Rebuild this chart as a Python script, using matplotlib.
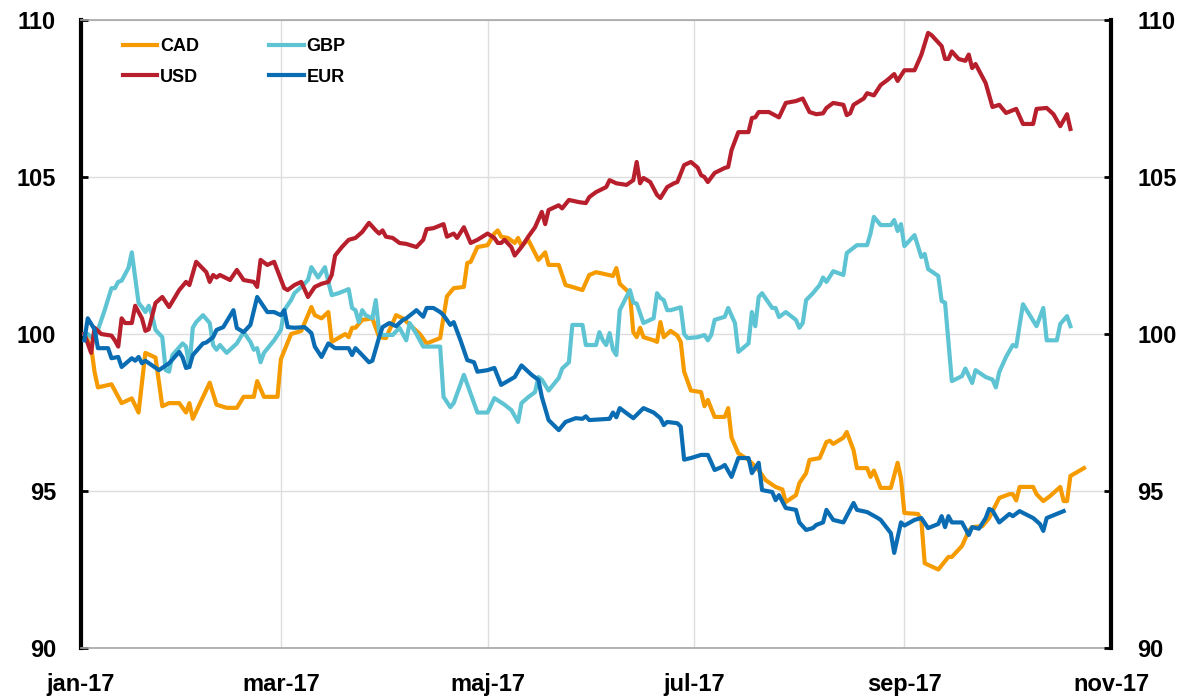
import pandas as pd
import matplotlib.pyplot as plt

# dage efter 1. jan 2017, indeks (start = 100)
cad_day = [1, 3, 4, 5, 9, 10, 12, 15, 17, 19, 22, 24, 26, 29, 31, 32, 33, 38, 40, 43, 46, 48, 51, 52, 54, 58,
           59, 62, 65, 68, 69, 71, 73, 74, 78, 79, 80, 81, 83, 86, 88, 90, 93, 95, 98, 100, 102, 106, 107, 108,
           110, 113, 114, 115, 117, 120, 122, 123, 124, 126, 128, 129, 130, 132, 135, 137, 138, 141, 143, 145,
           148, 150, 152, 155, 157, 158, 159, 161, 162, 163, 164, 165, 166, 169, 170, 171, 172, 174, 176, 177,
           178, 180, 183, 184, 185, 187, 190, 191, 192, 194, 197, 200, 202, 205, 207, 208, 211, 212, 214, 215,
           218, 220, 221, 222, 225, 226, 228, 229, 232, 233, 234, 236, 239, 241, 242, 243, 247, 248, 249, 253,
           256, 257, 260, 262, 263, 266, 268, 271, 274, 275, 276, 277, 281, 282, 284, 286, 289, 290, 291, 292, 296]
cad_val = [100.0, 99.6, 98.8, 98.3, 98.4, 98.2, 97.8, 97.95, 97.5, 99.4, 99.25, 97.7, 97.8, 97.8, 97.5, 97.8, 97.3,
           98.45, 97.75, 97.65, 97.65, 98.0, 98.0, 98.5, 98.0, 98.0,
           99.2, 100.0, 100.1, 100.86, 100.6, 100.5, 100.7, 99.75, 100.0, 99.9, 100.2, 100.2, 100.45, 100.5, 99.9,
           99.87, 100.6, 100.5, 100.2, 100.0, 99.7, 99.87, 100.55, 101.2,
           101.46, 101.5, 102.26, 102.3, 102.77, 102.83, 103.2, 103.3, 103.1, 103.06, 102.9, 103.06, 102.8, 103.0,
           102.36, 102.6, 102.2, 102.2, 101.56, 101.5,
           101.4, 101.88, 101.97, 101.9, 101.85, 102.1, 101.6, 101.4, 101.3, 100.06, 99.9, 100.2, 99.9, 99.8, 99.75,
           100.38, 99.9, 100.1, 99.95, 99.75,
           98.8, 98.2, 98.15, 97.7, 97.9, 97.36, 97.36, 97.64, 96.7, 96.2, 95.99, 95.67, 95.35, 95.13, 95.05, 94.65,
           94.87, 95.25, 95.57, 95.99,
           96.05, 96.56, 96.6, 96.5, 96.7, 96.88, 96.3, 95.73, 95.73, 95.45, 95.65, 95.1, 95.1, 95.9, 95.4, 94.3,
           94.27, 94.08, 92.7, 92.5,
           92.9, 92.9, 93.25, 93.73, 93.85, 93.88, 94.14, 94.78, 94.9, 94.9, 94.7, 95.13, 95.13, 94.9, 94.68, 94.84,
           95.13, 94.68, 94.68, 95.48, 95.73]

usd_day = [1, 3, 4, 6, 9, 10, 11, 12, 13, 15, 16, 18, 19, 20, 22, 24, 26, 29, 31, 32, 34, 37, 38, 39, 40, 41, 44,
           46, 48, 51, 52, 53, 55, 57, 60, 61, 63, 65, 67, 69, 71, 73, 74, 75, 77, 79, 81, 83, 85, 87, 88, 89, 90,
           92, 94, 96, 99, 101, 102, 104, 107, 108, 110, 111, 113, 115, 117, 120, 122, 123, 124, 125, 127, 128, 130,
           132, 134, 136, 137, 138, 141, 142, 144, 147, 149, 150, 152, 155, 156, 158, 161, 163, 164, 165, 166, 168,
           170, 171, 173, 175, 176, 178, 180, 182, 183, 184, 185, 187, 190, 191, 192, 194, 197, 198, 199, 200, 203,
           206, 208, 211, 213, 215, 217, 219, 220, 222, 225, 226, 227, 228, 231, 232, 234, 236, 238, 240, 241, 243,
           246, 248, 250, 251, 254, 255, 256, 257, 259, 261, 262, 263, 264, 267, 269, 271, 273, 276, 278, 281, 282,
           285, 287, 289, 291, 292]
usd_val = [100.0, 99.4, 100.2, 100.0, 99.95, 99.8, 99.6, 100.5, 100.35, 100.35, 100.9, 100.5, 100.1, 100.15, 100.99,
           101.18, 100.86, 101.4, 101.66, 101.56, 102.3, 101.97, 101.66, 101.88, 101.8, 101.88, 101.72,
           102.04, 101.72, 101.66, 101.5, 102.36, 102.2, 102.3, 101.46, 101.4, 101.56, 101.66, 101.18, 101.5, 101.6,
           101.66, 101.88, 102.5, 102.77, 103.0, 103.06, 103.25, 103.54, 103.3, 103.2, 103.3, 103.1,
           103.06, 102.9, 102.87, 102.77, 103.0, 103.34, 103.37, 103.5, 103.1, 103.2, 103.06, 103.4, 102.9, 103.0,
           103.2, 103.06, 102.9, 102.9, 103.0, 102.77, 102.5, 102.77,
           103.1, 103.4, 103.89, 103.5, 103.95, 104.1, 104.0, 104.27, 104.2, 104.17, 104.36, 104.52, 104.68, 104.9,
           104.8, 104.75, 104.9, 105.48, 104.8, 104.97, 104.84,
           104.43, 104.33, 104.68, 104.8, 104.84, 105.38, 105.48, 105.3, 105.06, 105.0, 104.84, 105.13, 105.29,
           105.32, 105.86, 106.43, 106.43, 106.88, 106.9, 107.07, 107.07,
           106.9, 107.36, 107.42, 107.5, 107.07, 107.0, 107.03, 107.2, 107.36, 107.3, 106.97, 107.03, 107.3, 107.5,
           107.67, 107.6, 107.93, 108.09, 108.28, 108.06, 108.4,
           108.4, 108.89, 109.59, 109.52, 109.17, 108.76, 108.76, 109.0, 108.76, 108.7, 108.9, 108.47, 108.6,
           107.99, 107.23, 107.3, 107.04, 107.17, 106.69, 106.69, 107.17,
           107.2, 107.0, 106.62, 107.0, 106.53]

gbp_day = [1, 2, 4, 5, 7, 9, 10, 11, 12, 14, 15, 17, 18, 19, 20, 21, 22, 24, 25, 26, 27, 30, 31, 32, 33, 34, 36,
           38, 39, 40, 41, 43, 46, 48, 50, 51, 52, 53, 54, 57, 59, 60, 62, 63, 65, 67, 68, 70, 72, 73, 74, 76, 79,
           80, 81, 82, 83, 84, 86, 87, 88, 89, 92, 94, 96, 97, 99, 101, 105, 106, 107, 109, 110, 113, 115, 117, 120,
           122, 125, 127, 129, 130, 132, 134, 135, 136, 138, 141, 142, 144, 145, 148, 149, 152, 153, 154, 155, 156,
           157, 158, 159, 162, 163, 164, 166, 169, 170, 171, 172, 173, 174, 177, 178, 179, 182, 184, 185, 186, 187,
           190, 191, 193, 194, 197, 198, 199, 200, 201, 204, 205, 206, 208, 211, 212, 213, 214, 216, 218, 219, 220,
           222, 225, 226, 229, 232, 233, 234, 236, 239, 240, 241, 242, 243, 246, 248, 249, 250, 253, 254, 255, 257,
           260, 261, 263, 264, 267, 269, 270, 271, 273, 275, 276, 278, 282, 284, 285, 288, 289, 291, 292]
gbp_val = [100.0, 100.0, 99.8, 100.13, 100.76, 101.46, 101.46, 101.66, 101.7, 102.1, 102.6, 100.99, 100.86, 100.7,
           100.9, 100.6, 100.13, 99.9, 98.85, 98.8, 99.33, 99.7, 99.6, 98.95, 100.2, 100.38, 100.6,
           100.35, 99.65, 99.5, 99.65, 99.4, 99.7, 100.06, 99.75, 99.5, 99.55, 99.1, 99.4, 99.8, 100.13, 100.76,
           101.08, 101.3, 101.5, 101.72, 102.13, 101.8, 102.13, 101.66, 101.24, 101.3, 101.43,
           100.83, 100.76, 100.38, 100.76, 100.6, 100.5, 101.08, 100.06, 99.97, 99.97, 100.2, 99.8, 100.35, 100.0,
           99.6, 99.6, 99.6, 98.0, 97.67, 97.8, 98.7, 98.1, 97.5, 97.5,
           97.96, 97.75, 97.58, 97.2, 97.8, 97.99, 98.15, 98.63, 98.55, 98.2, 98.6, 98.9, 99.1, 100.29, 100.29,
           99.65, 99.65, 100.06, 99.8, 99.65, 100.03,
           99.5, 99.33, 100.76, 101.4, 101.0, 100.97, 100.35, 100.5, 101.3, 101.15, 101.08, 100.76, 100.76, 100.85,
           100.0, 99.87, 99.9, 99.97, 99.8, 99.97, 100.45,
           100.55, 100.83, 100.35, 99.43, 99.7, 100.7, 100.25, 101.18, 101.3, 100.83, 100.83, 100.54, 100.7, 100.45,
           100.2, 100.35, 101.08, 101.3, 101.56, 101.8, 101.66,
           102.0, 101.88, 102.58, 102.83, 102.83, 103.2, 103.73, 103.47, 103.47, 103.63, 103.28, 103.5, 102.8,
           103.15, 102.45, 102.55, 102.07, 101.85, 101.05, 101.0, 98.5,
           98.66, 98.9, 98.44, 98.85, 98.63, 98.55, 98.3, 98.79, 99.27, 99.65, 99.6, 100.95, 100.25, 100.83, 99.8,
           99.8, 100.32, 100.57, 100.25]

eur_day = [1, 2, 4, 5, 8, 9, 11, 12, 15, 16, 17, 18, 19, 23, 26, 29, 30, 31, 32, 33, 36, 37, 39, 40, 42, 45, 46,
           48, 50, 52, 55, 57, 59, 60, 61, 63, 66, 68, 69, 71, 73, 75, 79, 80, 81, 83, 85, 86, 88, 89, 91, 93, 95,
           96, 98, 99, 101, 102, 104, 106, 107, 109, 110, 112, 114, 116, 117, 120, 122, 124, 128, 130, 133, 135,
           136, 138, 141, 143, 146, 148, 149, 150, 156, 157, 158, 159, 163, 166, 169, 171, 172, 173, 176, 177, 178,
           180, 183, 185, 187, 189, 190, 192, 194, 197, 198, 200, 201, 204, 205, 206, 208, 211, 212, 214, 216, 217,
           219, 220, 222, 225, 228, 229, 232, 235, 236, 239, 240, 242, 243, 246, 248, 250, 253, 254, 255, 256, 257,
           260, 262, 263, 265, 267, 268, 269, 271, 274, 275, 277, 281, 283, 284, 285, 290]
eur_val = [99.8, 100.5, 100.15, 99.55, 99.55, 99.23, 99.27, 98.95, 99.23, 99.15, 99.27, 99.07, 99.15, 98.85, 99.07,
           99.43, 99.25, 98.92, 98.95, 99.33, 99.7, 99.73, 99.9, 100.13, 100.22, 100.76, 100.19,
           100.06, 100.29, 101.18, 100.7, 100.7, 100.6, 100.76, 100.22, 100.2, 100.22, 100.03, 99.6, 99.27, 99.7,
           99.55, 99.55, 99.33, 99.55, 99.33, 99.1, 99.15, 99.9, 100.22, 100.35, 100.25, 100.45,
           100.5, 100.67, 100.76, 100.55, 100.83, 100.83, 100.7, 100.6, 100.29, 100.38, 99.8, 99.17, 99.1, 98.8,
           98.85, 98.92, 98.38, 98.63, 99.0, 98.7, 98.54,
           98.0, 97.26, 96.94, 97.2, 97.32, 97.3, 97.38, 97.26, 97.3, 97.5, 97.35, 97.64, 97.32, 97.64, 97.5, 97.32,
           97.1, 97.2, 97.16, 97.05, 96.0,
           96.05, 96.15, 96.15, 95.67, 95.76, 95.83, 95.45, 96.05, 96.05, 95.57, 95.9, 95.03, 94.97, 94.71, 94.87,
           94.46, 94.4, 94.0, 93.76, 93.82, 93.92,
           94.0, 94.4, 94.08, 94.0, 94.62, 94.4, 94.33, 94.15, 94.08, 93.66, 93.03, 94.0, 93.9, 94.08, 94.14, 93.82,
           93.95, 94.2, 93.85, 94.2, 94.0,
           94.0, 93.6, 93.85, 93.8, 94.14, 94.43, 94.38, 94.0, 94.27, 94.2, 94.36, 94.14, 93.95, 93.73, 94.14, 94.36]

start = pd.Timestamp('2017-01-01')
tick_dates = pd.to_datetime(['2017-01-01', '2017-03-01', '2017-05-01', '2017-07-01', '2017-09-01', '2017-11-01'])
tick_labels = ['jan-17', 'mar-17', 'maj-17', 'jul-17', 'sep-17', 'nov-17']
y_ticks = [90, 95, 100, 105, 110]


def to_dates(days):
    return start + pd.to_timedelta(days, unit='D')


plt.rcParams['font.family'] = ['Liberation Sans', 'DejaVu Sans']
plt.rcParams['font.weight'] = 'bold'

fig = plt.figure(figsize=(11.82, 6.98), dpi=100)
ax = fig.add_axes([0.0685, 0.0716, 0.8715, 0.8997])

lw = 3.0
l_cad, = ax.plot(to_dates(cad_day), cad_val, color='#F59B00', lw=lw, label='CAD', zorder=3)
l_gbp, = ax.plot(to_dates(gbp_day), gbp_val, color='#5EC4D3', lw=lw, label='GBP', zorder=4)
l_usd, = ax.plot(to_dates(usd_day), usd_val, color='#B81F2D', lw=lw, label='USD', zorder=5)
l_eur, = ax.plot(to_dates(eur_day), eur_val, color='#0A6DB3', lw=lw, label='EUR', zorder=6)

ax.set_xlim(tick_dates[0], tick_dates[-1])
ax.set_ylim(90, 110)
ax.set_xticks(tick_dates)
ax.set_xticklabels(tick_labels)
ax.set_yticks(y_ticks)
ax.grid(True, color='#DDDDDD', lw=1, zorder=0)
ax.set_axisbelow(True)

for s in ['top', 'bottom']:
    ax.spines[s].set_color('#A6A6A6')
    ax.spines[s].set_linewidth(1.2)
ax.spines['left'].set_color('black')
ax.spines['left'].set_linewidth(3)
ax.spines['right'].set_visible(False)

ax.tick_params(axis='x', length=0, pad=18, labelsize=17)
ax.tick_params(axis='y', direction='in', length=5, width=2, pad=18, labelsize=17)

ax2 = ax.twinx()
ax2.set_ylim(90, 110)
ax2.set_yticks(y_ticks)
ax2.spines['right'].set_color('black')
ax2.spines['right'].set_linewidth(3)
for s in ['top', 'bottom', 'left']:
    ax2.spines[s].set_visible(False)
ax2.tick_params(axis='y', direction='in', length=5, width=2, pad=19, labelsize=17)

ax.legend(handles=[l_cad, l_usd, l_gbp, l_eur], ncol=2, loc='upper left', bbox_to_anchor=(0.025, 0.997),
          frameon=False, fontsize=13, handlelength=1.9, handletextpad=0.15, columnspacing=3.9, labelspacing=0.75)

plt.savefig('out.png', dpi=100)
